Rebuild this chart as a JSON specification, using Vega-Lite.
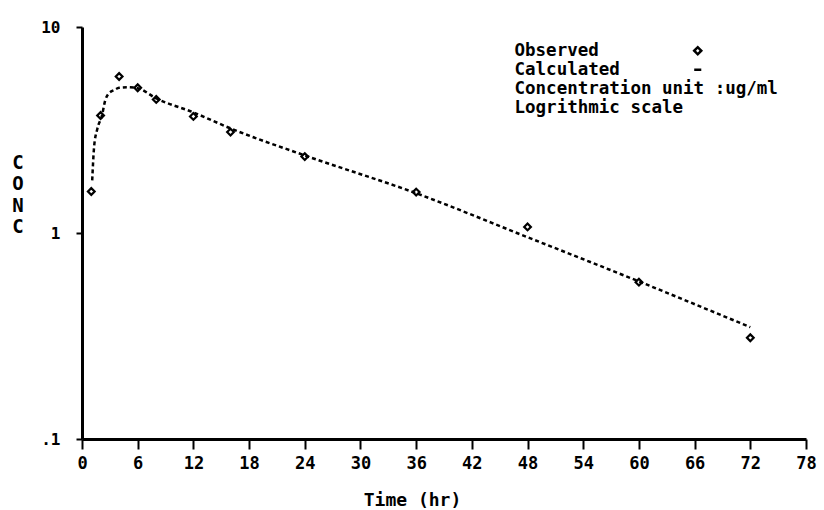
{
  "$schema": "https://vega.github.io/schema/vega-lite/v6.json",
  "width": 724,
  "height": 412,
  "autosize": {"type": "none"},
  "padding": {"left": 82, "top": 27, "right": 18, "bottom": 71},
  "background": "white",
  "config": {"view": {"stroke": null}, "font": "DejaVu Sans Mono"},
  "datasets": {
    "observed": [
      {"time": 1, "conc": 1.59},
      {"time": 2, "conc": 3.72},
      {"time": 4, "conc": 5.75},
      {"time": 6, "conc": 5.07},
      {"time": 8, "conc": 4.45},
      {"time": 12, "conc": 3.68},
      {"time": 16, "conc": 3.09},
      {"time": 24, "conc": 2.35},
      {"time": 36, "conc": 1.58},
      {"time": 48, "conc": 1.07},
      {"time": 60, "conc": 0.577},
      {"time": 72, "conc": 0.31}
    ],
    "calculated": [
      {"time": 1.1, "conc": 1.8},
      {"time": 1.3, "conc": 2.61},
      {"time": 1.65, "conc": 3.2},
      {"time": 2.15, "conc": 3.72},
      {"time": 2.5, "conc": 4.4},
      {"time": 2.85, "conc": 4.74},
      {"time": 3.5, "conc": 4.95},
      {"time": 4, "conc": 5.07},
      {"time": 5, "conc": 5.1},
      {"time": 6, "conc": 5.05},
      {"time": 8, "conc": 4.5},
      {"time": 12, "conc": 3.85},
      {"time": 16, "conc": 3.22},
      {"time": 24, "conc": 2.38},
      {"time": 36, "conc": 1.56},
      {"time": 48, "conc": 0.954},
      {"time": 60, "conc": 0.582},
      {"time": 72, "conc": 0.349}
    ]
  },
  "encoding": {
    "x": {
      "field": "time",
      "type": "quantitative",
      "scale": {"domain": [0, 78], "nice": false, "zero": false},
      "axis": {
        "values": [0, 6, 12, 18, 24, 30, 36, 42, 48, 54, 60, 66, 72, 78],
        "title": "Time (hr)",
        "grid": false,
        "domainColor": "black",
        "domainWidth": 3,
        "tickColor": "black",
        "tickWidth": 2,
        "tickSize": 10,
        "labelFont": "DejaVu Sans Mono",
        "labelFontWeight": "bold",
        "labelFontSize": 17,
        "labelColor": "black",
        "labelPadding": 6,
        "labelFlush": false,
        "labelOverlap": false,
        "titleFont": "DejaVu Sans Mono",
        "titleFontWeight": "bold",
        "titleFontSize": 18,
        "titleColor": "black",
        "titleX": 330,
        "titleY": 66,
        "titleAlign": "center",
        "titleBaseline": "alphabetic"
      }
    },
    "y": {
      "field": "conc",
      "type": "quantitative",
      "scale": {"type": "log", "domain": [0.1, 10], "nice": false},
      "axis": {
        "values": [0.1, 1, 10],
        "labelExpr": "datum.value < 0.5 ? '.1' : format(datum.value, 'd')",
        "grid": false,
        "domainColor": "black",
        "domainWidth": 3,
        "tickColor": "black",
        "tickWidth": 2,
        "tickSize": 6,
        "labelFont": "DejaVu Sans Mono",
        "labelFontWeight": "bold",
        "labelFontSize": 16,
        "labelColor": "black",
        "labelPadding": 16,
        "labelAlign": "right",
        "labelBaseline": "middle",
        "labelFlush": false,
        "title": ["C", "O", "N", "C"],
        "titleFont": "DejaVu Sans Mono",
        "titleFontWeight": "bold",
        "titleFontSize": 19,
        "titleColor": "black",
        "titleAngle": 0,
        "titleX": -64.5,
        "titleY": 126,
        "titleAlign": "center",
        "titleBaseline": "top",
        "titleLineHeight": 21.5
      }
    }
  },
  "layer": [
    {
      "data": {"name": "calculated"},
      "mark": {"type": "line", "color": "black", "strokeWidth": 2.5, "strokeDash": [4, 3], "interpolate": "monotone"}
    },
    {
      "data": {"name": "observed"},
      "mark": {"type": "point", "filled": false, "color": "black", "strokeWidth": 2.2, "size": 45, "opacity": 1},
      "encoding": {
        "shape": {
          "datum": "Observed",
          "scale": {
            "domain": ["Observed", "Calculated", "Concentration unit :ug/ml", "Logrithmic scale"],
            "range": ["diamond", "stroke", "M0,0", "M0,0"]
          },
          "legend": {
            "orient": "none",
            "legendX": 607,
            "legendY": 15,
            "title": null,
            "padding": 0,
            "labelFont": "DejaVu Sans Mono",
            "labelFontSize": 17.5,
            "labelFontWeight": "bold",
            "labelColor": "black",
            "labelLimit": 400,
            "labelOffset": -192,
            "symbolStrokeColor": "black",
            "symbolStrokeWidth": 2.5,
            "symbolFillColor": "transparent",
            "symbolSize": 50,
            "symbolOffset": 0,
            "rowPadding": 0
          }
        }
      }
    }
  ]
}
